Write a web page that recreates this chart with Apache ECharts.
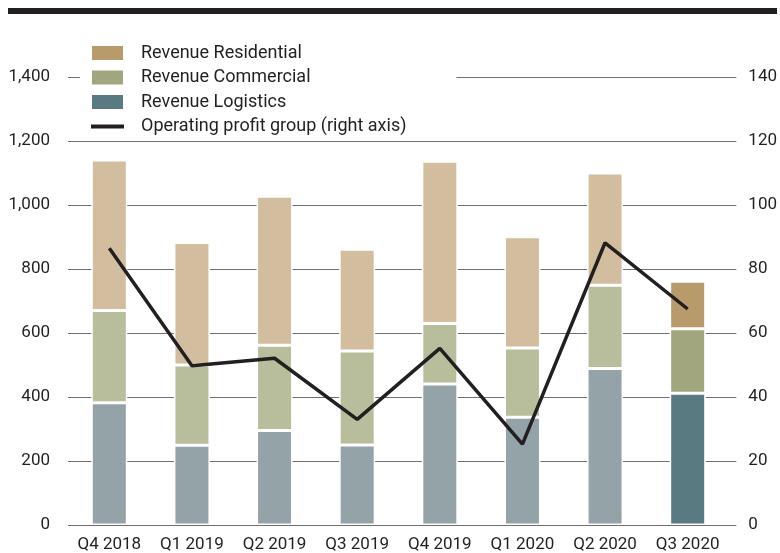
<!DOCTYPE html>
<html>
<head>
<meta charset="utf-8">
<script src="https://cdn.jsdelivr.net/npm/echarts@6/dist/echarts.min.js"></script>
<style>
  html, body { margin: 0; padding: 0; background: #fff; }
  #chart { width: 780px; height: 553px; }
</style>
</head>
<body>
<div id="chart"></div>
<script>
const categories = ['Q4 2018', 'Q1 2019', 'Q2 2019', 'Q3 2019', 'Q4 2019', 'Q1 2020', 'Q2 2020', 'Q3 2020']
const revenueLogistics = [382, 249, 295, 250, 441, 337, 489, 412]
const revenueCommercial = [288, 251, 267, 294, 189, 216, 260, 201]
const revenueResidential = [471, 383, 465, 318, 507, 348, 351, 149]
const operatingProfit = [86.5, 49.8, 52.1, 33.0, 55.2, 25.3, 88.2, 67.5]

const textColor = '#231f20'
const font = 'Roboto'

// last quarter is highlighted, the rest are faded
const colors = {
  residential: { dark: '#b89b6b', faded: '#d2be9f' },
  commercial: { dark: '#a2a67e', faded: '#b8bd9b' },
  logistics: { dark: '#5a7a82', faded: '#93a3a8' },
}

function barData(values, c) {
  return values.map((v, i) => ({
    value: v,
    itemStyle: { color: i === values.length - 1 ? c.dark : c.faded },
  }))
}

function barSeries(name, values, c) {
  return {
    name: name,
    type: 'bar',
    stack: 'rev',
    xAxisIndex: 1,
    yAxisIndex: 2,
    barWidth: 36,
    itemStyle: { color: c.dark, borderColor: '#fff', borderWidth: 1.5 },
    data: barData(values, c),
  }
}

const chart = echarts.init(document.getElementById('chart'))

const option = {
  animation: false,
  textStyle: { fontFamily: font },
  graphic: [{
    type: 'rect',
    shape: { x: 8, y: 8, width: 769, height: 6 },
    style: { fill: '#231f20' },
  }],
  legend: {
    orient: 'vertical',
    left: 80,
    top: 38,
    padding: [6, 50, 4, 10],
    backgroundColor: '#fff',
    itemWidth: 33,
    itemHeight: 16,
    itemGap: 6.5,
    textStyle: { fontFamily: font, fontSize: 18, color: textColor, padding: [0, 0, 0, 12] },
    data: [
      { name: 'Revenue Residential', icon: 'rect' },
      { name: 'Revenue Commercial', icon: 'rect' },
      { name: 'Revenue Logistics', icon: 'rect' },
      { name: 'Operating profit group (right axis)', icon: 'path://M0,0L0,0M0,6L33,6L33,10L0,10ZM33,16L33,16' },
    ],
  },
  grid: [
    { left: 68, right: 39, top: 77, bottom: 28 },
    { left: 68, right: 51, top: 77, bottom: 28 },
  ],
  xAxis: [
    { type: 'category', gridIndex: 0, data: categories, show: false },
    {
      type: 'category',
      gridIndex: 1,
      data: categories,
      axisLine: { show: false },
      axisTick: { show: false },
      axisLabel: { fontFamily: font, fontSize: 17, color: textColor, margin: 11, interval: 0 },
    },
  ],
  yAxis: [
    {
      type: 'value',
      gridIndex: 0,
      min: 0,
      max: 1400,
      interval: 200,
      axisLine: { show: false },
      axisTick: { show: false },
      axisLabel: { fontFamily: font, fontSize: 17, color: textColor, margin: 18 },
      splitLine: { lineStyle: { color: '#707070', width: 1 } },
    },
    {
      type: 'value',
      gridIndex: 0,
      position: 'right',
      min: 0,
      max: 140,
      interval: 20,
      axisLine: { show: false },
      axisTick: { show: false },
      axisLabel: { fontFamily: font, fontSize: 17, color: textColor, margin: 12 },
      splitLine: { show: false },
    },
    { type: 'value', gridIndex: 1, min: 0, max: 1400, show: false, splitLine: { show: false } },
    { type: 'value', gridIndex: 1, min: 0, max: 140, show: false, splitLine: { show: false } },
  ],
  series: [
    barSeries('Revenue Logistics', revenueLogistics, colors.logistics),
    barSeries('Revenue Commercial', revenueCommercial, colors.commercial),
    barSeries('Revenue Residential', revenueResidential, colors.residential),
    {
      name: 'Operating profit group (right axis)',
      type: 'line',
      xAxisIndex: 1,
      yAxisIndex: 3,
      symbol: 'none',
      z: 5,
      itemStyle: { color: '#231f20' },
      lineStyle: { color: '#231f20', width: 3.5 },
      data: operatingProfit,
    },
  ],
}

chart.setOption(option)
</script>
</body>
</html>
